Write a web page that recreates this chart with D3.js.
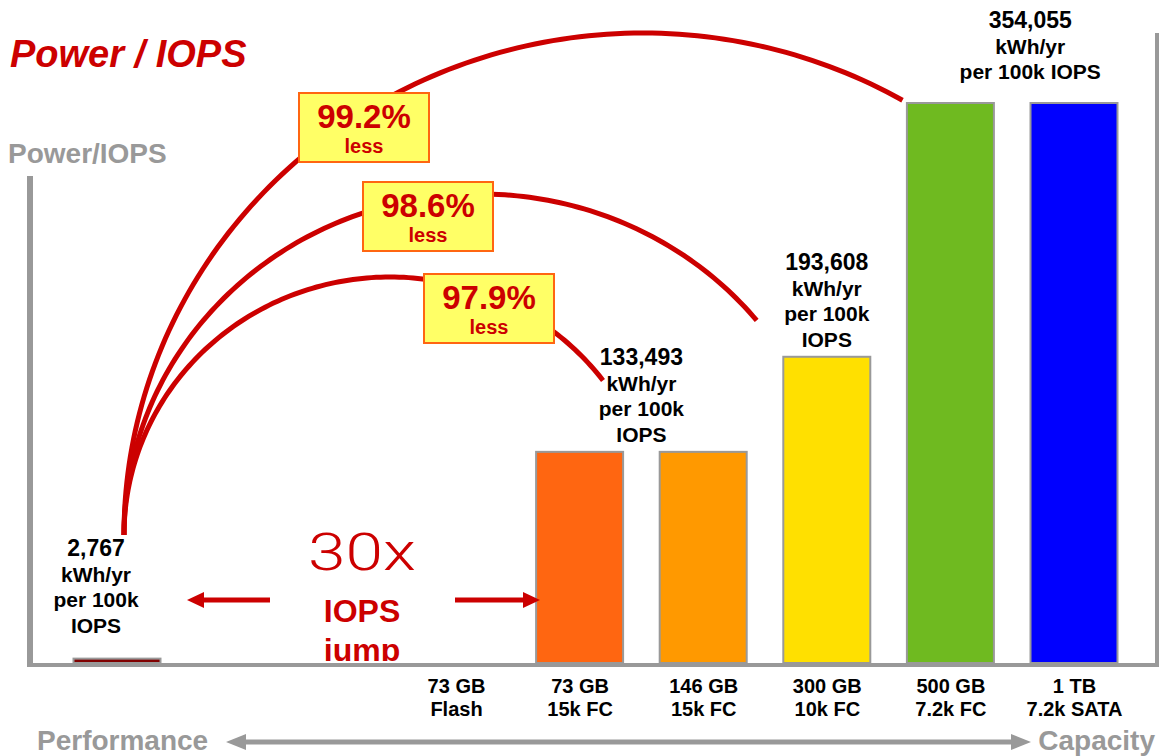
<!DOCTYPE html>
<html lang="en">
<head>
<meta charset="utf-8">
<title>Power / IOPS</title>
<script src="https://cdn.jsdelivr.net/npm/d3@7"></script>
<style>
    body { margin: 0; background: #fff; }
    svg { display: block; font-family: "Liberation Sans", Arial, sans-serif; }
</style>
</head>
<body>
<svg id="canvas" width="1159" height="756"></svg>
<script>
    // --- data ---
    const capacity = ["73 GB", "73 GB", "146 GB", "300 GB", "500 GB", "1 TB"]
    const driveType = ["Flash", "15k FC", "15k FC", "10k FC", "7.2k FC", "7.2k SATA"]
    const kwhPer100kIops = [2767, 133493, 133493, 193608, 354055, 354055]
    const barColors = ["#800000", "#ff6611", "#ff9900", "#ffe000", "#6fba20", "#0000ff"]

    // value callouts: which bars a label sits over, and its extra lines
    const calloutBars = [[0], [1, 2], [3], [4, 5]]
    const calloutLines = [
        ["kWh/yr", "per 100k", "IOPS"],
        ["kWh/yr", "per 100k", "IOPS"],
        ["kWh/yr", "per 100k", "IOPS"],
        ["kWh/yr", "per 100k IOPS"]
    ]

    // savings of flash vs. the other drives (percent less)
    const savingsPct = [99.2, 98.6, 97.9]
    const savingsTarget = [4, 3, 1]

    const red = "#cc0000", grey = "#999999"
    let svg = d3.select("#canvas")

    const baseY = 663
    const x = d3.scalePoint().domain(d3.range(capacity.length)).range([456, 1074])
    const y = d3.scaleLinear().domain([0, 354055]).range([baseY, 103])
    const barW = 87
    const flashShift = -339   // flash bar sits far left of its label on the slide
    const barCx = i => x(i) + (i === 0 ? flashShift : 0)

    // title + axis captions
    svg.append("text").attr("x", 10).attr("y", 67)
        .attr("font-size", 38).attr("font-weight", "bold").attr("font-style", "italic")
        .attr("fill", red).text("Power / IOPS")
    svg.append("text").attr("x", 8).attr("y", 163)
        .attr("font-size", 28).attr("font-weight", "bold").attr("fill", grey).text("Power/IOPS")

    // bars
    svg.append("g").selectAll("rect")
        .data(kwhPer100kIops)
        .join("rect")
        .attr("x", (d, i) => barCx(i) - barW / 2)
        .attr("y", d => y(d))
        .attr("width", barW)
        .attr("height", d => baseY - y(d))
        .attr("fill", (d, i) => barColors[i])
        .attr("stroke", grey)
        .attr("stroke-width", 2)

    // frame lines
    svg.append("line").attr("x1", 30).attr("x2", 30).attr("y1", 176).attr("y2", 667)
        .attr("stroke", grey).attr("stroke-width", 6)
    svg.append("line").attr("x1", 1157).attr("x2", 1157).attr("y1", 33).attr("y2", 667)
        .attr("stroke", grey).attr("stroke-width", 4)
    svg.append("line").attr("x1", 27).attr("x2", 1159).attr("y1", 665).attr("y2", 665)
        .attr("stroke", grey).attr("stroke-width", 4)

    // category axis (two line labels)
    let xAxis = svg.append("g")
        .attr("transform", `translate(0,${baseY})`)
        .call(d3.axisBottom(x).tickSize(0).tickFormat(""))
    xAxis.select(".domain").remove()
    xAxis.selectAll(".tick text").remove()
    let tickText = xAxis.selectAll(".tick").append("text")
        .attr("text-anchor", "middle")
        .attr("font-size", 20).attr("font-weight", "bold").attr("fill", "#000")
    tickText.append("tspan").attr("x", 0).attr("y", 30).text(i => capacity[i])
    tickText.append("tspan").attr("x", 0).attr("y", 53).text(i => driveType[i])

    // arcs from flash label to the other bars (quarter-ish ellipses)
    const arcStart = [124, 535]
    const arcShape = [[519, 502, 60.3], [356, 341, 39.4], [266, 258, 36.8]]
    const arcLine = d3.line()
    arcShape.forEach(([rx, ry, endDeg]) => {
        const cx = arcStart[0] + rx
        const pts = d3.range(180, endDeg - 0.5, -1).concat([endDeg]).map(a => {
            const t = a * Math.PI / 180
            return [cx + rx * Math.cos(t), arcStart[1] - ry * Math.sin(t)]
        })
        svg.append("path").attr("d", arcLine(pts))
            .attr("fill", "none").attr("stroke", red).attr("stroke-width", 5)
    })

    // savings boxes
    const boxCentre = [[364, 127], [428, 216], [489, 308]]
    savingsPct.forEach((p, k) => {
        const [bx, by] = boxCentre[k]
        let g = svg.append("g").attr("transform", `translate(${bx},${by})`)
        g.append("rect").attr("x", -65).attr("y", -34).attr("width", 130).attr("height", 69)
            .attr("fill", "#ffff66").attr("stroke", "#ff6611").attr("stroke-width", 2)
        g.append("text").attr("text-anchor", "middle").attr("y", 1)
            .attr("font-size", 33).attr("font-weight", "bold").attr("fill", red)
            .text(d3.format(".1f")(p) + "%")
        g.append("text").attr("text-anchor", "middle").attr("y", 26)
            .attr("font-size", 20).attr("font-weight", "bold").attr("fill", red)
            .text("less")
    })

    // value callouts above bars
    const calloutTop = [556, 365, 270, 28]
    calloutBars.forEach((bars, k) => {
        const cx = d3.mean(bars, barCx) + (k === 0 ? -21 : 0) + (k === 3 ? 18 : 0)
        let t = svg.append("text").attr("text-anchor", "middle")
            .attr("font-weight", "bold").attr("fill", "#000")
        t.append("tspan").attr("x", cx).attr("y", calloutTop[k]).attr("font-size", 23)
            .text(d3.format(",")(kwhPer100kIops[bars[0]]))
        calloutLines[k].forEach((s, j) => {
            t.append("tspan").attr("x", cx).attr("y", calloutTop[k] + 25.5 * (j + 1))
                .attr("font-size", 21).text(s)
        })
    })

    // 30x IOPS jump with arrows
    const arrowHead = (tipX, tipY, dir, len, half, colour) =>
        svg.append("path")
            .attr("d", `M${tipX},${tipY}L${tipX - dir * len},${tipY - half}L${tipX - dir * len},${tipY + half}Z`)
            .attr("fill", colour)
    svg.append("line").attr("x1", 270).attr("x2", 200).attr("y1", 600).attr("y2", 600)
        .attr("stroke", red).attr("stroke-width", 5)
    arrowHead(187, 600, -1, 17, 8, red)
    svg.append("line").attr("x1", 455).attr("x2", 526).attr("y1", 600).attr("y2", 600)
        .attr("stroke", red).attr("stroke-width", 5)
    arrowHead(540, 600, 1, 17, 8, red)

    svg.append("defs").append("clipPath").attr("id", "aboveAxis")
        .append("rect").attr("x", 0).attr("y", 0).attr("width", 1159).attr("height", 661)
    let jump = svg.append("g").attr("clip-path", "url(#aboveAxis)")
        .attr("text-anchor", "middle").attr("fill", red)
    jump.append("text").attr("transform", "translate(362,570) scale(1.3,1)")
        .attr("font-family", "Roboto, 'Noto Sans', sans-serif").attr("font-weight", 300)
        .attr("font-size", 52).text("30x")
    jump.append("text").attr("x", 362).attr("y", 622)
        .attr("font-size", 32).attr("font-weight", "bold").text("IOPS")
    jump.append("text").attr("x", 362).attr("y", 661)
        .attr("font-size", 32).attr("font-weight", "bold").text("jump")

    // performance <-> capacity
    svg.append("text").attr("x", 37).attr("y", 750)
        .attr("font-size", 28).attr("font-weight", "bold").attr("fill", grey).text("Performance")
    svg.append("text").attr("x", 1155).attr("y", 750).attr("text-anchor", "end")
        .attr("font-size", 28).attr("font-weight", "bold").attr("fill", grey).text("Capacity")
    svg.append("line").attr("x1", 245).attr("x2", 1012).attr("y1", 742).attr("y2", 742)
        .attr("stroke", grey).attr("stroke-width", 5)
    arrowHead(226, 742, -1, 20, 8, grey)
    arrowHead(1031, 742, 1, 20, 8, grey)
</script>
</body>
</html>
